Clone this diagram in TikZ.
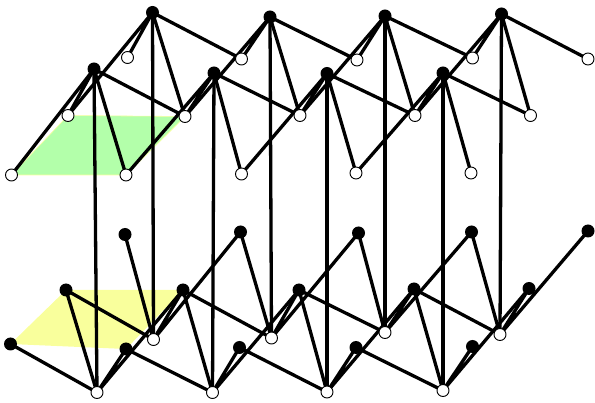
\documentclass[tikz,border=0pt]{standalone}
\tikzset{
  wn/.style={circle,draw=black,fill=white,line width=0.9pt,inner sep=0pt,minimum size=12pt},
  bn/.style={circle,fill=black,draw=none,inner sep=0pt,minimum size=13pt},
  edge/.style={line width=3.3pt,black},
  vedge/.style={line width=3.3pt,black},
}
\definecolor{gfill}{HTML}{B3FFAA}
\definecolor{yfill}{HTML}{F9FF9C}
\begin{document}
\begin{tikzpicture}[x=1pt,y=-1pt]
\useasboundingbox (0,0) rectangle (595,403);
% coordinates first so fills sit under everything
\foreach \n/\x/\y in {a1/152.5/12.5,a2/270/17,a3/385/16,a4/501.5/14,
  b1/94/69,b2/214/73,b3/327/73.5,b4/443/73,
  c0/127.5/57.5,c1/241.5/59,c2/357/60,c3/472.5/58,c4/588/59,
  d0/68/115.5,d1/185/116.5,d2/300/115.5,d3/415/115.5,d4/530.5/115.5,
  e0/11.5/175,e1/126/175,e2/241.5/174,e3/356/173,e4/471/173,
  f0/125/234.5,f1/240.5/232,f2/358.5/233,f3/471.5/232,f4/588/231,
  g0/66/290,g1/183/290,g2/299/290,g3/414/289,g4/529/288.5,
  h0/10.5/344,h1/126/349,h2/239.5/347.5,h3/356/347.5,h4/472.5/346.5,
  i0/153.5/339.5,i1/271.5/338,i2/385/332.5,i3/500/334.5,
  j0/97/392.5,j1/212.5/392.5,j2/327/392,j3/443/390.5}
  {\coordinate (\n) at (\x,\y);}
\fill[gfill,draw=yfill,line width=0.6pt] (e0) -- (d0) -- (d1) -- (e1) -- cycle;
\fill[yfill] (h0) -- (g0) -- (g1) -- (h1) -- cycle;
% upper lattice
\foreach \t/\cl/\dl/\dr/\cr in {a1/c0/d0/d1/c1,a2/c1/d1/d2/c2,a3/c2/d2/d3/c3,a4/c3/d3/d4/c4,
                                b1/d0/e0/e1/d1,b2/d1/e1/e2/d2,b3/d2/e2/e3/d3,b4/d3/e3/e4/d4}
  {\draw[edge] (\t)--(\cl) (\t)--(\dl) (\t)--(\dr) (\t)--(\cr);}
% lower lattice
\foreach \t/\fl/\gl/\gr/\fr in {i0/f0/g0/g1/f1,i1/f1/g1/g2/f2,i2/f2/g2/g3/f3,i3/f3/g3/g4/f4,
                                j0/h0/g0/g1/h1,j1/h1/g1/g2/h2,j2/h2/g2/g3/h3,j3/h3/g3/g4/h4}
  {\draw[edge] (\t)--(\fl) (\t)--(\gl) (\t)--(\gr) (\t)--(\fr);}
% vertical links
\foreach \t/\u in {a1/i0,a2/i1,a3/i2,a4/i3,b1/j0,b2/j1,b3/j2,b4/j3}
  {\draw[vedge] (\t)--(\u);}
% nodes
\foreach \n in {a1,a2,a3,a4,b1,b2,b3,b4,f0,f1,f2,f3,f4,g0,g1,g2,g3,g4,h0,h1,h2,h3,h4}
  {\node[bn] at (\n) {};}
\foreach \n in {c0,c1,c2,c3,c4,d0,d1,d2,d3,d4,e0,e1,e2,e3,e4,i0,i1,i2,i3,j0,j1,j2,j3}
  {\node[wn] at (\n) {};}
\end{tikzpicture}
\end{document}
